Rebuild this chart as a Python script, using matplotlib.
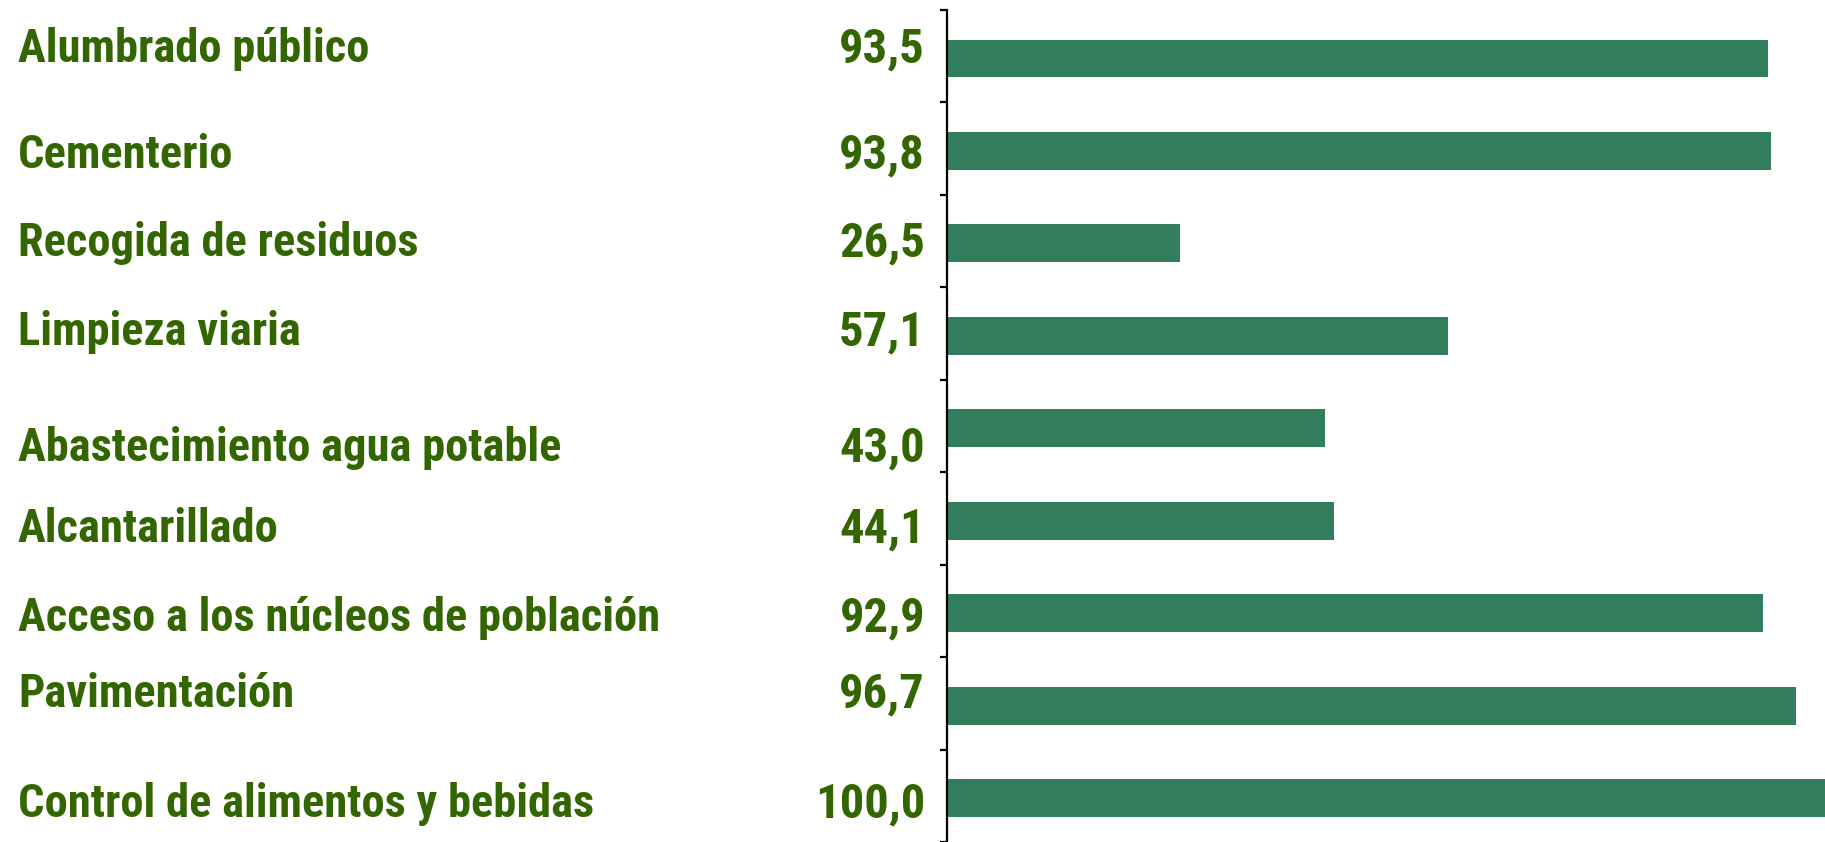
import matplotlib
matplotlib.use("Agg")
import matplotlib.pyplot as plt
import matplotlib.transforms as mtransforms
import numpy as np

# ---------------------------------------------------------------------------
# Data (top to bottom)
# ---------------------------------------------------------------------------
categories = [
    "Alumbrado público",
    "Cementerio",
    "Recogida de residuos",
    "Limpieza viaria",
    "Abastecimiento agua potable",
    "Alcantarillado",
    "Acceso a los núcleos de población",
    "Pavimentación",
    "Control de alimentos y bebidas",
]
values = [93.5, 93.8, 26.5, 57.1, 43.0, 44.1, 92.9, 96.7, 100.0]
value_labels = ["93,5", "93,8", "26,5", "57,1", "43,0", "44,1", "92,9", "96,7", "100,0"]

# small vertical nudges of the text rows (slot units), as in the original layout
label_dy = [-0.15, 0.0, -0.05, -0.088, 0.165, 0.038, 0.0, -0.175, 0.013]

BAR_COLOR = "#327d5c"
TEXT_COLOR = "#336600"
FONT = ["Roboto Condensed", "DejaVu Sans"]

fig = plt.figure(figsize=(18.25, 8.42), dpi=100)
ax = fig.add_axes([947 / 1825, 0.0, 1 - 947 / 1825, 1 - 10 / 842])

n = len(categories)
y = np.arange(n) + 0.525   # bars sit a touch below the slot centre
ax.barh(y, values, height=0.41, color=BAR_COLOR)
ax.set_xlim(0, 100)
ax.set_ylim(n, 0)

for s in ("top", "right", "bottom"):
    ax.spines[s].set_visible(False)
ax.spines["left"].set_linewidth(1.6)
ax.set_xticks([])
ax.set_yticks(np.arange(n + 1))
ax.set_yticklabels([])
ax.tick_params(axis="y", direction="out", length=5, width=1.6)

trans = mtransforms.blended_transform_factory(fig.transFigure, ax.transData)
for yi, cat, lab, dy in zip(y, categories, value_labels, label_dy):
    ax.text(18 / 1825, yi + dy, cat, transform=trans, ha="left", va="center_baseline",
            fontsize=33.5, fontweight="bold", family=FONT,
            color=TEXT_COLOR, clip_on=False)
    ax.text(925 / 1825, yi + dy, lab, transform=trans, ha="right", va="center_baseline",
            fontsize=35, fontweight="bold", family=FONT,
            color=TEXT_COLOR, clip_on=False)

fig.savefig("out.png", dpi=100)
